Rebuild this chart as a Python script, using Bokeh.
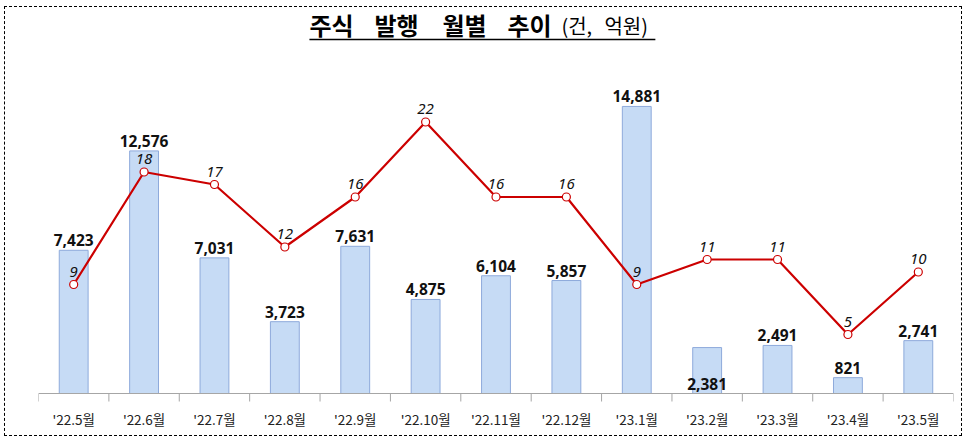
from bokeh.plotting import figure
from bokeh.models import Range1d, FactorRange, Span, Label
from bokeh.core.properties import value
from bokeh.embed import file_html
from bokeh.resources import INLINE

# ---- data ----
months = ["'22.5월", "'22.6월", "'22.7월", "'22.8월", "'22.9월", "'22.10월", "'22.11월",
          "'22.12월", "'23.1월", "'23.2월", "'23.3월", "'23.4월", "'23.5월"]
amount = [7423, 12576, 7031, 3723, 7631, 4875, 6104, 5857, 14881, 2381, 2491, 821, 2741]  # 억원
count = [9, 18, 17, 12, 16, 22, 16, 16, 9, 11, 11, 5, 10]  # 건
title_words = ["주식", "발행", "월별", "추이"]
unit_words = ["(건,", "억원)"]

KFONT = "Noto Sans CJK KR"
NFONT = "Noto Sans"

PX = 51.84  # primary units per pixel
p = figure(width=958, height=430, x_range=FactorRange(*months, range_padding=0),
           y_range=Range1d(-9 * PX, 386 * PX), output_backend="svg", toolbar_location=None,
           min_border_left=33, min_border_right=10, min_border_top=0, min_border_bottom=35)
p.styles = {"border": "1px dashed #000000", "margin-left": "4px", "margin-top": "6px"}
p.outline_line_color = None
p.grid.visible = False
p.yaxis.visible = False
p.extra_y_ranges = {"cnt": Range1d(-0.44, 31.16)}

# x axis (labels only)
xa = p.xaxis[0]
xa.axis_line_color = None
xa.major_tick_line_color = None
xa.major_tick_out = 0
xa.major_tick_in = 0
xa.major_label_standoff = 6
xa.major_label_text_font = KFONT
xa.major_label_text_font_size = "13.5px"
xa.major_label_text_color = "#222222"

# baseline + boundary ticks
p.add_layout(Span(location=0, dimension="width", line_color="#A6A6A6", line_width=1))
bounds = list(range(len(months) + 1))
p.segment(x0=bounds, y0=[0] * len(bounds), x1=bounds, y1=[-8 * PX] * len(bounds),
          line_color="#A6A6A6", line_width=1)

# bars
p.vbar(x=months, top=amount, width=0.41, fill_color="#C6DBF5", line_color="#8EAADB", line_width=1)

# bar labels
lab_y = [0 if i == 9 else v for i, v in enumerate(amount)]
lab_txt = [f"{v:,}" for v in amount]
p.text(x=months, y=lab_y, text=lab_txt, text_align="center", text_baseline="bottom",
       y_offset=-4, text_font=value(NFONT), text_font_style="bold", text_font_size="15.5px",
       text_color="#111111")

# line
p.line(x=months, y=count, y_range_name="cnt", line_color="#CC0000", line_width=2.2)
p.scatter(x=months, y=count, y_range_name="cnt", size=8, fill_color="white",
          line_color="#CC0000", line_width=1.2)
p.text(x=months, y=count, y_range_name="cnt", text=[str(c) for c in count],
       text_align="center", text_baseline="bottom", y_offset=-8, text_font=value(NFONT),
       text_font_style="italic", text_font_size="15px", text_color="#111111")

# title
def sx(px):
    return (px - 38) / 70.4

for xpx, w in zip((309, 374, 442, 507), title_words):
    p.add_layout(Label(x=sx(xpx), y=369 * PX, text=w, text_align="left", text_baseline="middle",
                       text_font=KFONT, text_font_style="bold", text_font_size="24px",
                       text_color="#000000"))
for xpx, w in zip((561, 604), unit_words):
    p.add_layout(Label(x=sx(xpx), y=368 * PX, text=w, text_align="left", text_baseline="middle",
                       text_font=KFONT, text_font_size="20px", text_color="#000000"))
p.segment(x0=[sx(309)], y0=[354 * PX], x1=[sx(655)], y1=[354 * PX], line_color="#000000", line_width=1.5)

open("out.html", "w").write(file_html(p, INLINE))
